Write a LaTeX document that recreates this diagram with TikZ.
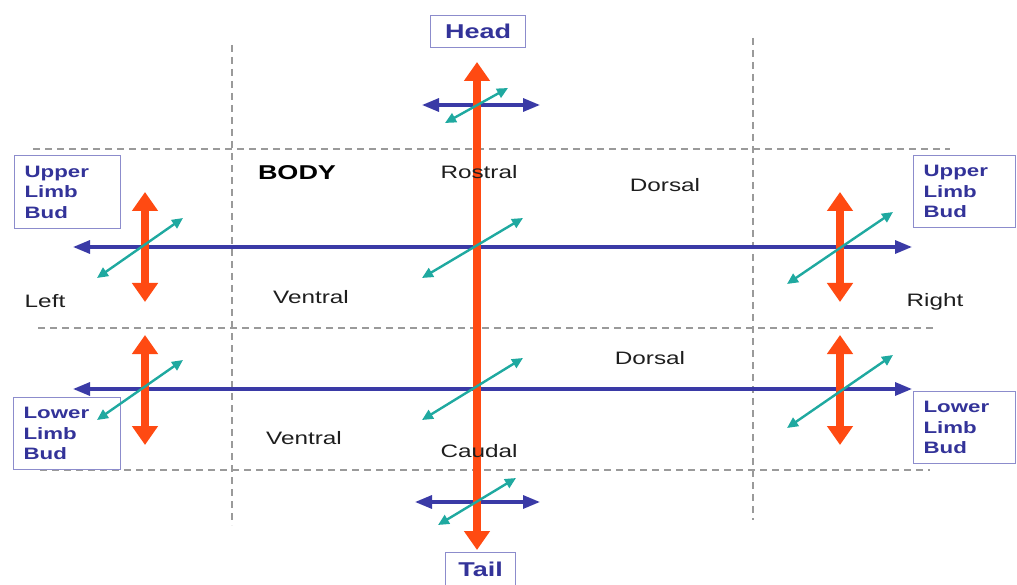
\documentclass[tikz,border=0pt]{standalone}
\usepackage{fontspec}
\setmainfont{Liberation Sans}[FakeStretch=1.35]
\usetikzlibrary{arrows.meta}
\definecolor{orng}{HTML}{FF4A12}
\definecolor{navy}{HTML}{3A3AA6}
\definecolor{teal2}{HTML}{1FA9A0}
\definecolor{boxline}{HTML}{8C8CCC}
\definecolor{boxtext}{HTML}{333399}
\definecolor{dash}{HTML}{9A9A9A}
\definecolor{txt}{HTML}{1E1E1E}
\tikzset{
  guide/.style={draw=dash, line width=1.4pt, dash pattern=on 7pt off 5pt},
  axisO/.style={draw=orng, line width=8pt, {Triangle[width=25pt,length=19pt]}-{Triangle[width=25pt,length=19pt]}},
  axisB/.style={draw=navy, line width=3.2pt, {Triangle[width=13pt,length=17pt]}-{Triangle[width=13pt,length=17pt]}},
  axisT/.style={draw=teal2, line width=2.4pt, {Triangle[width=10pt,length=11pt]}-{Triangle[width=10pt,length=11pt]}},
  lbox/.style={draw=boxline, line width=1.2pt, fill=white, text=boxtext, font=\fontsize{16.5}{20.5}\selectfont\bfseries, align=left, inner xsep=10pt, inner ysep=0pt, anchor=north west},
  tbox/.style={draw=boxline, line width=1.2pt, fill=white, text=boxtext, font=\fontsize{20}{24}\selectfont\bfseries, inner sep=0pt, anchor=north west},
  lbl/.style={text=txt, font=\fontsize{18}{22}\selectfont, inner sep=0pt}
}
\begin{document}
\begin{tikzpicture}[x=1pt,y=-1pt]
\useasboundingbox (0,0) rectangle (1017,585);
% guides
\draw[guide] (33,149) -- (950,149);
\draw[guide] (38,328) -- (937,328);
\draw[guide] (40,470) -- (930,470);
\draw[guide] (232,45) -- (232,525);
\draw[guide] (753,38) -- (753,520);
% boxes
\node[tbox, minimum width=95pt, minimum height=32pt] (head) at (430,15) {Head};
\node[tbox, minimum width=70pt, minimum height=33pt] (tail) at (445,552) {Tail};
\node[lbox, text width=86pt, minimum height=73pt] (ulL) at (14,155) {Upper\\Limb\\Bud};
\node[lbox, text width=82pt, minimum height=72pt] (ulR) at (913,155) {Upper\\Limb\\Bud};
\node[lbox, text width=87pt, minimum height=72pt] (llL) at (13,397) {Lower\\Limb\\Bud};
\node[lbox, text width=82pt, minimum height=72pt] (llR) at (913,391) {Lower\\Limb\\Bud};
% coordinates
\coordinate (hU1) at (73,247); \coordinate (hU2) at (912,247);
\coordinate (hL1) at (73,389); \coordinate (hL2) at (912,389);
\coordinate (ht1) at (422,105); \coordinate (ht2) at (540,105);
\coordinate (hb1) at (415,502); \coordinate (hb2) at (540,502);
\coordinate (vM1) at (477,62); \coordinate (vM2) at (477,550);
\coordinate (vLU1) at (145,192); \coordinate (vLU2) at (145,302);
\coordinate (vLL1) at (145,335); \coordinate (vLL2) at (145,445);
\coordinate (vRU1) at (840,192); \coordinate (vRU2) at (840,302);
\coordinate (vRL1) at (840,335); \coordinate (vRL2) at (840,445);
\coordinate (dT1) at (445,123); \coordinate (dT2) at (508,88);
\coordinate (dB1) at (438,525); \coordinate (dB2) at (516,478);
\coordinate (dCU1) at (422,278); \coordinate (dCU2) at (523,218);
\coordinate (dCL1) at (422,420); \coordinate (dCL2) at (523,358);
\coordinate (dLU1) at (97,278); \coordinate (dLU2) at (183,218);
\coordinate (dLL1) at (97,420); \coordinate (dLL2) at (183,360);
\coordinate (dRU1) at (787,284); \coordinate (dRU2) at (893,212);
\coordinate (dRL1) at (787,428); \coordinate (dRL2) at (893,355);
% blue
\draw[axisB] (hU1) -- (hU2);
\draw[axisB] (hL1) -- (hL2);
\draw[axisB] (ht1) -- (ht2);
\draw[axisB] (hb1) -- (hb2);
% orange
\draw[axisO] (vM1) -- (vM2);
\draw[axisO] (vLU1) -- (vLU2);
\draw[axisO] (vLL1) -- (vLL2);
\draw[axisO] (vRU1) -- (vRU2);
\draw[axisO] (vRL1) -- (vRL2);
% teal
\draw[axisT] (dT1) -- (dT2);
\draw[axisT] (dB1) -- (dB2);
\draw[axisT] (dCU1) -- (dCU2);
\draw[axisT] (dCL1) -- (dCL2);
\draw[axisT] (dLU1) -- (dLU2);
\draw[axisT] (dLL1) -- (dLL2);
\draw[axisT] (dRU1) -- (dRU2);
\draw[axisT] (dRL1) -- (dRL2);
% labels
\node[lbl, font=\fontsize{20}{24}\selectfont\bfseries, text=black] (body) at (297,173) {BODY};
\node[lbl] (rostral) at (479,172) {Rostral};
\node[lbl] (dorsal1) at (665,185) {Dorsal};
\node[lbl] (left) at (45,301) {Left};
\node[lbl] (ventral1) at (311,297) {Ventral};
\node[lbl] (right) at (935,302) {Right};
\node[lbl] (dorsal2) at (650,358) {Dorsal};
\node[lbl] (ventral2) at (304,438) {Ventral};
\node[lbl] (caudal) at (479,451) {Caudal};
\end{tikzpicture}
\end{document}
